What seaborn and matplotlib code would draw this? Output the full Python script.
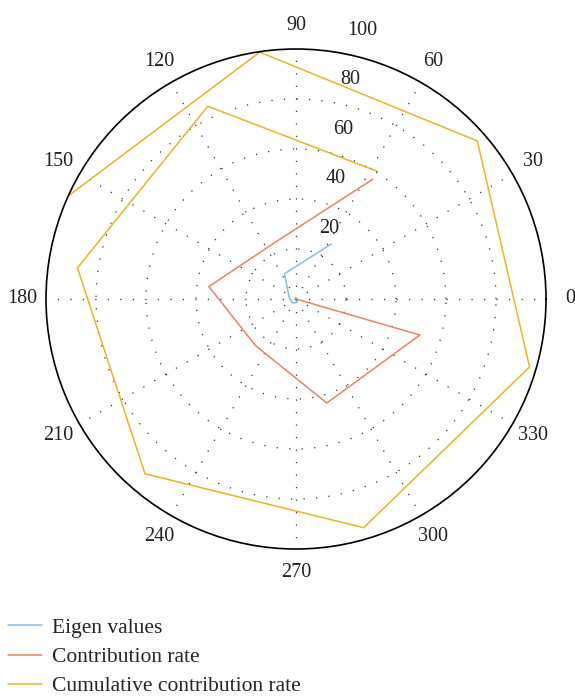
import numpy as np
import matplotlib
matplotlib.use('Agg')
import matplotlib.pyplot as plt
import seaborn as sns
from matplotlib.lines import Line2D

sns.set_theme(style='white')
plt.rcParams['font.family'] = ['Liberation Serif', 'DejaVu Serif']

# component index used as angle (radians)
theta = [1, 2, 3, 4, 5, 6, 7, 8, 9]
eigen_values = [26.2, 11.1, 2.7, 2.1, 1.4, 0.8, 0.4, 0.2, 0.1]
contribution = [57.0, 23.8, 35.2, 24.7, 43.4, 51.6, 0.0, 0.0, 0.0]
cumulative = [60.6, 84.8, 88.3, 92.4, 95.4, 97.3, 96.2, 99.8, 100.0]

series_names = ['Eigen values', 'Contribution rate', 'Cumulative contribution rate']
series_colors = ['#86BDE6', '#EA8462', '#EDB22A']

r_ticks = [20, 40, 60, 80, 100]
angle_ticks = [0, 30, 60, 90, 120, 150, 180, 210, 240, 270, 300, 330]

fig = plt.figure(figsize=(5.75, 6.99), dpi=100)
ax = fig.add_axes([0.08, 0.2146, 0.8696, 0.7153], projection='polar')

for vals, name, col in zip([eigen_values, contribution, cumulative], series_names, series_colors):
    sns.lineplot(x=theta, y=vals, ax=ax, color=col, linewidth=1.1, sort=False, legend=False)

ax.set_ylim(0, 100)
ax.set_rgrids(r_ticks[:-1], labels=[])
ax.set_thetagrids(angle_ticks, labels=[])
ax.grid(True, color='#333333', linestyle=(0, (1, 9)), linewidth=0.9)
ax.spines['polar'].set_color('black')
ax.spines['polar'].set_linewidth(1.2)
ax.set_xlabel('')
ax.set_ylabel('')

# angle labels around the circle
for a in angle_ticks:
    ax.text(np.deg2rad(a), 109.6, str(a), ha='center', va='center',
            fontsize=14.5, color='#222222', clip_on=False)

# radial labels
for v in r_ticks:
    ax.annotate(str(v), xy=(np.deg2rad(82), v), xytext=(16, 21),
                textcoords='offset pixels', ha='left', va='center',
                fontsize=14.5, color='#222222', annotation_clip=False)

handles = [Line2D([0], [0], color=c, lw=1.1) for c in series_colors]
fig.legend(handles, series_names, loc='upper left', bbox_to_anchor=(0.014, 0.116),
           frameon=False, fontsize=15.5, handlelength=1.58, handletextpad=0.47,
           labelspacing=0.42, borderpad=0, borderaxespad=0)

fig.savefig('out.png', dpi=100)
